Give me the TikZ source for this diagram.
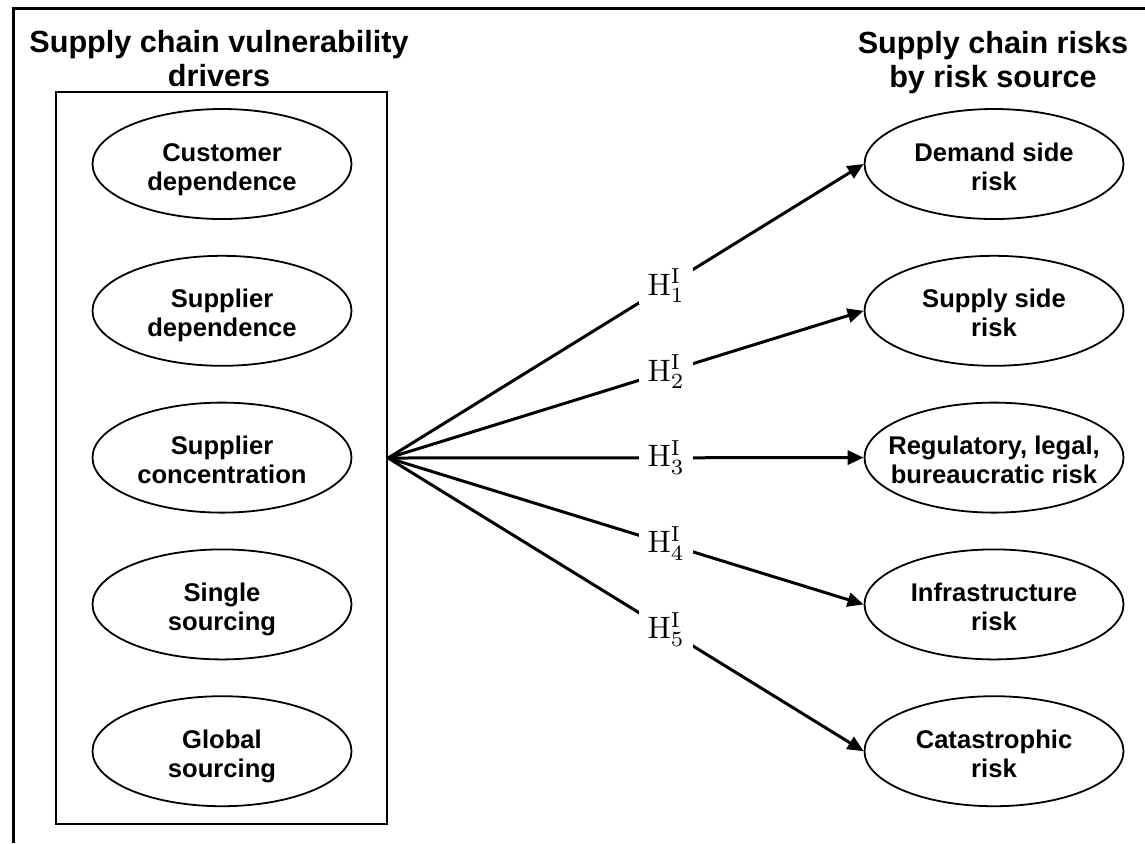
\documentclass[tikz,border=0pt]{standalone}
\usepackage{amsmath}
\usepackage{fontspec}
\newfontfamily\driverfont{Liberation Sans}
\usetikzlibrary{shapes.geometric,arrows.meta,positioning}

\begin{document}
\begin{tikzpicture}[x=0.5pt,y=-0.5pt,
  main/.style = {draw, ellipse, line width=0.9pt, minimum width=129.5pt, minimum height=55pt,
    inner xsep=-25pt, inner ysep=0pt, align=center, font=\driverfont\bfseries\fontsize{12.8}{14.5}\selectfont,
    text height=26pt, text depth=0pt},
  head/.style = {align=center, font=\driverfont\bfseries\fontsize{15.3}{17}\selectfont},
  hyp/.style = {fill=white, inner xsep=2.7pt, inner ysep=0.5pt, pos=0.585, scale=1.55},
  arr/.style = {-{Triangle[length=8pt,width=7pt]}, line width=1.5pt},
  node distance={73.4pt}]
  \useasboundingbox (0,0) rectangle (1145,843);
  \draw[line width=1.6pt] (13.5,843) -- (13.5,8.5) -- (1145,8.5);

  \node[head] (lt) at (219,59) {Supply chain vulnerability\\drivers};
  \node[head] (rt) at (993,63) {Supply chain risks\\by risk source};

  \node[draw, line width=1.1pt, minimum width=165.5pt, minimum height=366pt] (box) at (221.5,458) {};

  \node[main] (d1) at (222,164) {Customer\\dependence};
  \node[main] (d2) [below of=d1] {Supplier\\dependence};
  \node[main] (d3) [below of=d2] {Supplier\\concentration};
  \node[main] (d4) [below of=d3] {Single\\sourcing};
  \node[main] (d5) [below of=d4] {Global\\sourcing};

  \node[main] (r1) at (994,164) {Demand side\\risk};
  \node[main] (r2) [below of=r1] {Supply side\\risk};
  \node[main] (r3) [below of=r2] {Regulatory, legal,\\bureaucratic risk};
  \node[main] (r4) [below of=r3] {Infrastructure\\risk};
  \node[main] (r5) [below of=r4] {Catastrophic\\risk};

  \draw[arr] (box.east) -- node[hyp] {$\mathrm{H}^{\mathrm{I}}_1$} (r1.west);
  \draw[arr] (box.east) -- node[hyp] {$\mathrm{H}^{\mathrm{I}}_2$} (r2.west);
  \draw[arr] (box.east) -- node[hyp] {$\mathrm{H}^{\mathrm{I}}_3$} (r3.west);
  \draw[arr] (box.east) -- node[hyp] {$\mathrm{H}^{\mathrm{I}}_4$} (r4.west);
  \draw[arr] (box.east) -- node[hyp] {$\mathrm{H}^{\mathrm{I}}_5$} (r5.west);
\end{tikzpicture}
\end{document}
